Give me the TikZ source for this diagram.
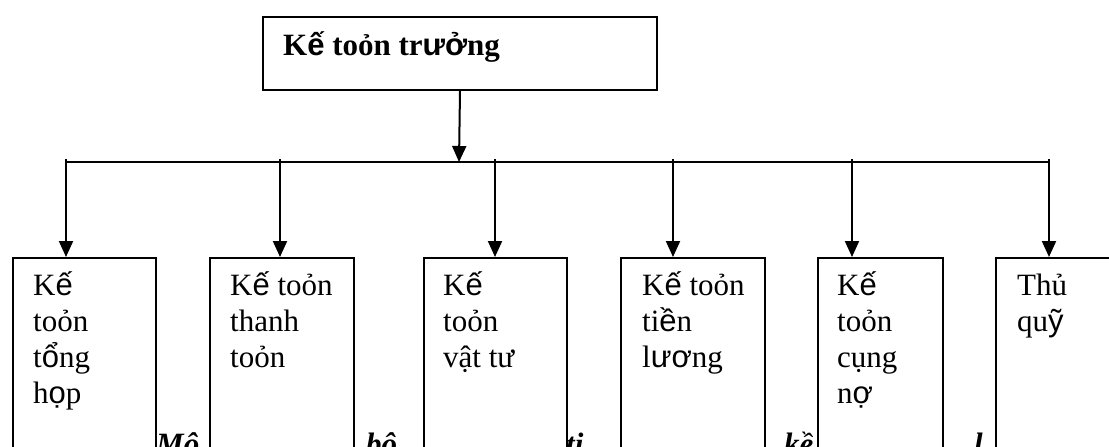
\documentclass[tikz,border=0pt]{standalone}
\usepackage{fontspec}
\setmainfont{Liberation Serif}
\newfontfamily\sa{Liberation Sans}
\usetikzlibrary{arrows.meta}
\newcommand\stk[1]{\vtop{\baselineskip=36pt\lineskiplimit=-100pt\halign{##\hfil\cr#1\crcr}}}
\begin{document}
\begin{tikzpicture}[x=1pt,y=-1pt,
  box/.style={draw, line width=2pt, fill=white, inner sep=0pt, anchor=north west},
  lbl/.style={anchor=base west, inner sep=0pt, font=\fontsize{31}{36}\selectfont},
  ttl/.style={anchor=base west, inner sep=0pt, font=\bfseries\fontsize{31}{36}\selectfont},
  frag/.style={anchor=base west, inner sep=0pt, font=\bfseries\itshape\fontsize{31}{36}\selectfont},
  conn/.style={line width=2pt},
  arr/.style={conn, -{Triangle[width=14pt,length=16pt]}},
  drop/.style={arr, shorten <=-3pt}]
\useasboundingbox (0,0) rectangle (1109,447);
\clip (0,0) rectangle (1109,447);
% caption fragments behind the boxes
\node[frag] (f1) at (156,454) {Mô};
\node[frag] (f2) at (366,454) {bộ};
\node[frag] (f3) at (566,454) {ti};
\node[frag] (f4) at (784,454) {kề};
\node[frag] (f5) at (974,454) {l};
% top box
\node[box, minimum width=394pt, minimum height=73pt] (top) at (262,16) {};
\node[ttl] (ttext) at (283,55) {K{\sa ế} toỏn tr{\sa ưở}ng};
% bottom boxes
\node[box, minimum width=143pt, minimum height=210pt] (b1) at (12,257) {};
\node[box, minimum width=144pt, minimum height=210pt] (b2) at (209,257) {};
\node[box, minimum width=143pt, minimum height=210pt] (b3) at (423,257) {};
\node[box, minimum width=144pt, minimum height=210pt] (b4) at (620,257) {};
\node[box, minimum width=125pt, minimum height=210pt] (b5) at (817,257) {};
\node[box, minimum width=117pt, minimum height=210pt] (b6) at (995,257) {};
\node[lbl] (l1) at (33,295) {\stk{K{\sa ế}\cr toỏn\cr t{\sa ổ}ng\cr h{\sa ọ}p}};
\node[lbl] (l2) at (230,295) {\stk{K{\sa ế} toỏn\cr thanh\cr toỏn}};
\node[lbl] (l3) at (443,295) {\stk{K{\sa ế}\cr toỏn\cr vật tư}};
\node[lbl] (l4) at (642,295) {\stk{K{\sa ế} toỏn\cr ti{\sa ề}n\cr l{\sa ươ}ng}};
\node[lbl] (l5) at (837,295) {\stk{K{\sa ế}\cr toỏn\cr cụng\cr n{\sa ợ}}};
\node[lbl] (l6) at (1017,295) {\stk{Thủ\cr qu{\sa ỹ}}};
% connectors
\coordinate (j) at (459,162);
\coordinate (t1) at (66,162);
\coordinate (t2) at (280,162);
\coordinate (t3) at (495,162);
\coordinate (t4) at (673,162);
\coordinate (t5) at (852,162);
\coordinate (t6) at (1049,162);
\draw[arr] (top.south) -- (j);
\draw[conn] (t1) -- (t6);
\draw[drop] (t1) -- (t1 |- b1.north);
\draw[drop] (t2) -- (t2 |- b2.north);
\draw[drop] (t3) -- (t3 |- b3.north);
\draw[drop] (t4) -- (t4 |- b4.north);
\draw[drop] (t5) -- (t5 |- b5.north);
\draw[drop] (t6) -- (t6 |- b6.north);
\end{tikzpicture}
\end{document}
